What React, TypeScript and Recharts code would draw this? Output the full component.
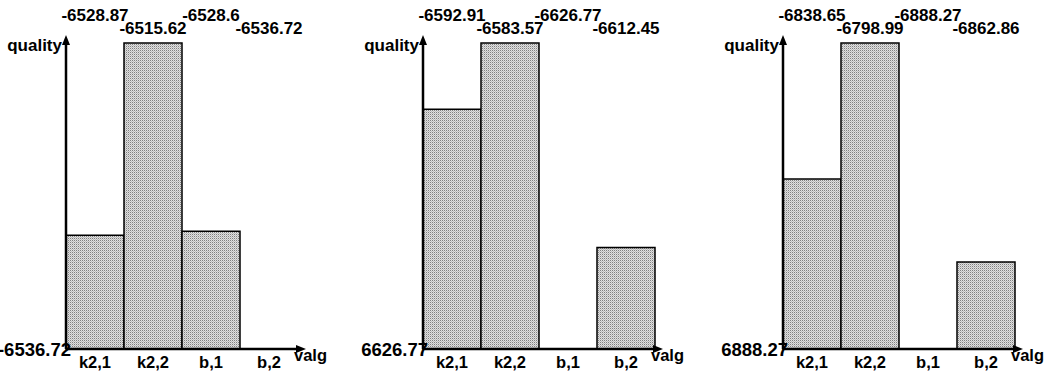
import React from "react";
import { BarChart, Bar, XAxis, YAxis, Label } from "recharts";

const CATEGORIES = ["k2,1", "k2,2", "b,1", "b,2"];
const PANEL_1 = [-6528.87, -6515.62, -6528.6, -6536.72];
const PANEL_2 = [-6592.91, -6583.57, -6626.77, -6612.45];
const PANEL_3 = [-6838.65, -6798.99, -6888.27, -6862.86];
const BASE_LABELS = ["-6536.72", "6626.77", "6888.27"];

const FONT = "'Liberation Sans', Arial, sans-serif";

const PANELS = [
  { values: PANEL_1, base: BASE_LABELS[0], left: 0, marginLeft: 65 },
  { values: PANEL_2, base: BASE_LABELS[1], left: 348, marginLeft: 74 },
  { values: PANEL_3, base: BASE_LABELS[2], left: 696, marginLeft: 86 },
];

const W = 348;
const H = 371;
const PLOT_W = 232;
const TOP = 42;

function Panel({ idx, values, base, left, marginLeft }: any) {
  const min = Math.min(...values);
  const data = CATEGORIES.map((c, i) => ({ name: c, raw: values[i], bar: values[i] - min }));
  const pid = `dots${idx}`;
  const aid = `arrow${idx}`;
  return (
    <div style={{ position: "absolute", left, top: 0 }}>
      <BarChart
        width={W}
        height={H}
        data={data}
        margin={{ top: TOP, left: marginLeft, right: W - marginLeft - 1 - PLOT_W, bottom: 0 }}
        barCategoryGap={0}
        accessibilityLayer={false}
      >
        <defs>
          <pattern id={pid} width={2} height={2} patternUnits="userSpaceOnUse">
            <rect width={2} height={2} fill="#e0e0e0" />
            <rect width={1} height={1} fill="#808080" />
            <rect x={1} y={1} width={1} height={1} fill="#bcbcbc" />
          </pattern>
          <marker id={aid} viewBox="0 0 10 8" refX={2} refY={4} markerWidth={10} markerHeight={8}
            markerUnits="userSpaceOnUse" orient="auto-start-reverse">
            <path d="M0,0 L10,4 L0,8 z" fill="#000" />
          </marker>
        </defs>
        <XAxis
          dataKey="name"
          height={22}
          tickSize={0}
          tickMargin={0}
          axisLine={{ stroke: "#000", strokeWidth: 2.5, markerEnd: `url(#${aid})` }}
          tick={({ x, y, payload }: any) => (
            <text x={x} y={y + 19} textAnchor="middle" fontFamily={FONT} fontWeight="bold" fontSize={16.5} fill="#000">
              {payload.value}
            </text>
          )}
        >
          <Label
            content={({ viewBox }: any) => (
              <text x={viewBox.x + viewBox.width - 4} y={viewBox.y + 12} fontFamily={FONT} fontWeight="bold" fontSize={16.5} fill="#000">
                valg
              </text>
            )}
          />
        </XAxis>
        <XAxis
          xAxisId="top"
          orientation="top"
          dataKey="name"
          height={1}
          axisLine={false}
          tickLine={false}
          tickSize={0}
          tickMargin={0}
          tick={({ x, index }: any) => (
            <text
              x={x}
              y={index % 2 === 0 ? TOP - 21 : TOP - 8}
              textAnchor="middle"
              fontFamily={FONT}
              fontWeight="bold"
              fontSize={17}
              fill="#000"
            >
              {values[index]}
            </text>
          )}
        />
        <YAxis
          width={1}
          domain={[0, "dataMax"]}
          ticks={[0]}
          tickSize={0}
          tickMargin={0}
          axisLine={{ stroke: "#000", strokeWidth: 2.5, markerStart: `url(#${aid})` }}
          tick={({ x, y }: any) => (
            <text x={x + 5} y={y + 7} textAnchor="end" fontFamily={FONT} fontWeight="bold" fontSize={18.5} fill="#000">
              {base}
            </text>
          )}
        >
          <Label
            content={({ viewBox }: any) => (
              <text x={viewBox.x + viewBox.width - 4} y={viewBox.y + 8} textAnchor="end" fontFamily={FONT} fontWeight="bold" fontSize={17} fill="#000">
                quality
              </text>
            )}
          />
        </YAxis>
        <Bar dataKey="bar" fill={`url(#${pid})`} stroke="#000" strokeWidth={1.5} isAnimationActive={false} />
      </BarChart>
    </div>
  );
}

export default function App() {
  return (
    <div style={{ position: "absolute", left: 0, top: 0, width: 1044, height: H, background: "#fff" }}>
      {PANELS.map((p, i) => (
        <Panel key={i} idx={i} {...p} />
      ))}
    </div>
  );
}
